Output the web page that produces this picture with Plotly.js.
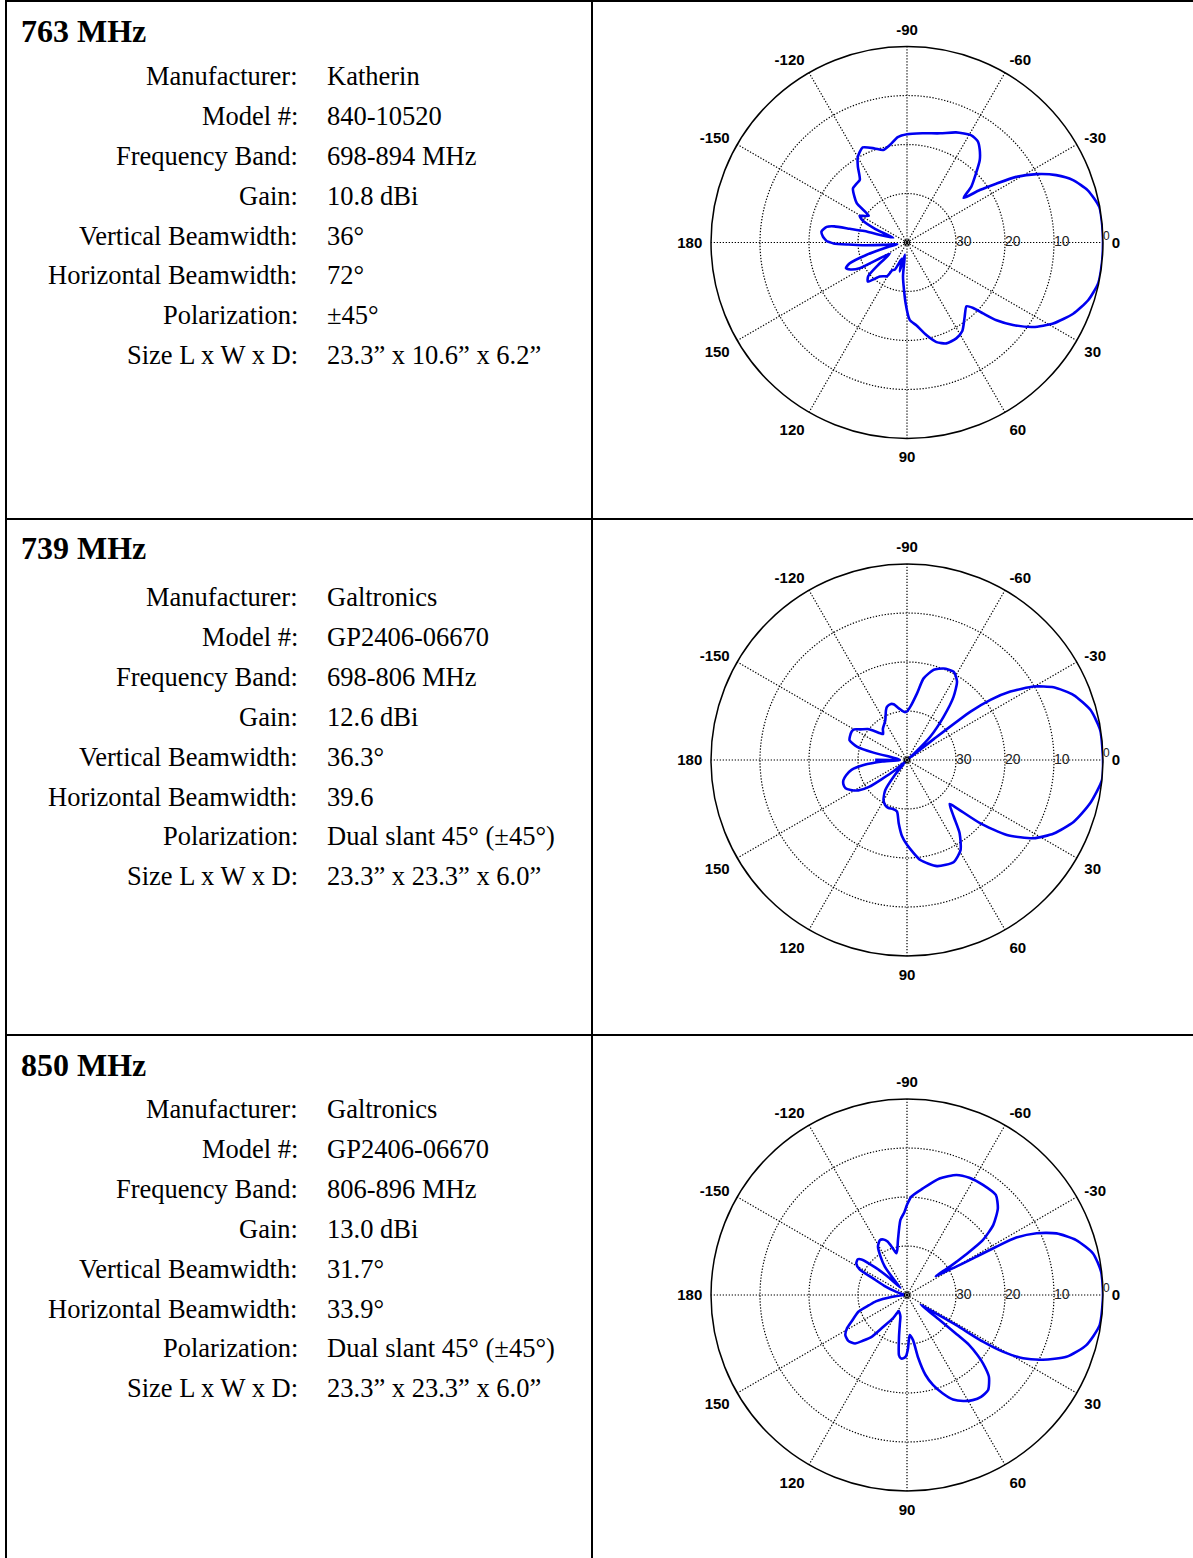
<!DOCTYPE html>
<html><head><meta charset="utf-8">
<script src="https://cdn.plot.ly/plotly-3.0.1.min.js"></script>
<style>html,body{margin:0;padding:0;background:#fff;overflow:hidden}#chart{width:1193px;height:1558px}</style>
</head><body><div id="chart"></div>
<script>
// ---------- text data ----------
const titles = ['763 MHz', '739 MHz', '850 MHz'];
const fieldLabels = ['Manufacturer:', 'Model #:', 'Frequency Band:', 'Gain:', 'Vertical Beamwidth:', 'Horizontal Beamwidth:', 'Polarization:', 'Size L x W x D:'];
const specs763 = ['Katherin', '840-10520', '698-894 MHz', '10.8 dBi', '36°', '72°', '±45°', '23.3” x 10.6” x 6.2”'];
const specs739 = ['Galtronics', 'GP2406-06670', '698-806 MHz', '12.6 dBi', '36.3°', '39.6', 'Dual slant 45° (±45°)', '23.3” x 23.3” x 6.0”'];
const specs850 = ['Galtronics', 'GP2406-06670', '806-896 MHz', '13.0 dBi', '31.7°', '33.9°', 'Dual slant 45° (±45°)', '23.3” x 23.3” x 6.0”'];

// ---------- polar tick data ----------
const angleTickVals = [0, 30, 60, 90, 120, 150, 180, 210, 240, 270, 300, 330];
const angleTickText = ['0', '30', '60', '90', '120', '150', '180', '-150', '-120', '-90', '-60', '-30'];
const radialTickVals = [-30, -20, -10, 0];
const radialTickText = ['30', '20', '10', '0'];
const radialRange = [-40, 0];

// ---------- pattern data (angle in degrees, relative level in dB) ----------
const theta763 = [-179, -176, -172.7, -169, -167.5, -166.5, -165, -161, -157, -153.5, -150.5, -148, -145, -142, -139, -135, -131, -127, -123, -120, -115, -109, -104.5, -100, -95, -90, -82, -73, -66, -59, -55, -52, -48.5, -45, -41, -38.2, -35.8, -33.4, -31, -27.8, -24.3, -20.6, -16.1, -10.5, -5, 0, 6, 12, 17.7, 23.2, 29, 33.8, 37.9, 41, 43, 44.7, 47, 52.2, 58, 62.8, 68.7, 73.5, 78.2, 83.6, 88, 91.3, 96.7, 100, 104, 108, 112, 114.3, 118, 120.5, 125, 128.8, 135, 139, 142, 146.8, 151.5, 154.5, 157.3, 160, 163, 167, 171, 174.4, 176.5, 178, 179.3, -179];
const gain763 = [-23.6, -22.8, -22.4, -23.3, -24.8, -28, -31, -37, -33, -29.8, -28.9, -29.8, -30.5, -27, -25.8, -24.4, -24.2, -24, -21.6, -19.9, -18.6, -19.7, -20.5, -19.8, -18.4, -17.9, -17.5, -16.7, -15.4, -14.5, -14.8, -15.9, -17.6, -20.1, -22.6, -25.3, -21.7, -18.2, -14, -10.1, -6.6, -3.8, -1.6, -0.1, 0, 0, 0, -0.1, -1.2, -3.1, -5.9, -9, -12.6, -15.8, -18.8, -21, -22.2, -20.8, -18.7, -18, -17.9, -18.8, -20.7, -23, -24.2, -27.6, -33, -37.5, -33.9, -36.5, -35.1, -33.9, -33.6, -32, -31.6, -31.1, -28.7, -29.5, -32.5, -35.8, -29, -27.2, -26.5, -27.5, -31.3, -36, -38, -35.1, -31, -28, -25, -23.6];

const theta739 = [-180, -177.5, -173, -170, -167.6, -165, -161, -157.6, -153, -150, -146.7, -141.6, -139, -135, -132.7, -128, -123, -118.4, -113, -110.6, -106, -103.5, -98, -93, -90, -86.4, -81.5, -78.5, -73.5, -68.2, -62.2, -57.5, -53.6, -49.8, -45, -42, -39.5, -38, -37.3, -35.8, -33.5, -30.1, -26.4, -21.3, -15.3, -8.8, 0, 5.9, 13.3, 20.3, 26.6, 31.7, 36.9, 40.8, 44, 45.9, 50.5, 54.3, 59.3, 65.3, 74.2, 82.4, 90, 93.7, 97.5, 101, 106, 111, 116, 120.3, 125.8, 129, 134, 140, 144.7, 148, 152, 155.3, 159, 162.5, 166, 170, 173.4, 176.5, 178.5, 180];
const gain739 = [-33.5, -38.5, -38, -37, -33, -29.4, -27.6, -27.4, -27.3, -27.5, -28.6, -29.8, -30.8, -32.3, -32.8, -32, -31.4, -30.7, -29, -28.4, -28.1, -28.3, -29.5, -30.2, -30.1, -29.1, -26.3, -23, -20.8, -19.9, -19.6, -21, -24, -28.4, -33.3, -38, -39.5, -33, -23.7, -19, -14.7, -10.1, -6.6, -3.5, -1.2, -0.1, 0, 0, -1.6, -3.7, -6.5, -9.6, -14.5, -20.2, -25.8, -27.5, -25, -21.6, -18.6, -17.1, -17.5, -19.4, -22.7, -24.4, -27, -29.3, -29.6, -29.5, -29.8, -30.5, -32.4, -36, -39.5, -36.5, -30.5, -28.3, -27, -26.2, -26.1, -26.4, -27.2, -28.5, -31.1, -35, -38.5, -33.5];

const theta850 = [-180, -170, -163, -158, -153.9, -151.5, -148, -144, -142, -139, -136, -132.5, -130, -128, -124.6, -121, -118, -116.4, -113, -110, -107, -104.4, -102, -99.3, -95, -92, -90, -87.5, -81.5, -74.4, -67.6, -62, -55.4, -48.4, -43.6, -39.1, -35.9, -34.5, -33.5, -33.2, -31.5, -29.9, -28.9, -28.4, -27.7, -25.5, -22.4, -18, -12.6, -6.8, 0, 8.9, 15.6, 21.2, 25.5, 28.6, 30.6, 31.6, 31.5, 32.5, 35, 37.5, 38.3, 38.8, 40.5, 42, 44.9, 49.5, 54, 58, 62, 66.2, 70, 73.9, 77, 79.9, 82.4, 86.2, 88.9, 91, 93, 95.5, 97.6, 100.9, 104, 107, 112, 117, 121, 126.6, 130, 134, 137, 142, 147, 151, 156, 161, 165, 168.4, 173, 180];
const gain850 = [-39.5, -39, -37.5, -35, -32.3, -29, -27.8, -27.6, -28.2, -31.5, -35, -38, -35.5, -32.6, -30.5, -28.5, -27.8, -27.5, -27.7, -28.4, -30, -31.2, -30.5, -28.6, -24.6, -23.2, -21.6, -19.9, -18, -15.3, -13.5, -12.9, -12.7, -12.7, -14.4, -17.3, -20.9, -25.4, -29.5, -33, -31, -28.4, -23.8, -19.3, -14.8, -10.7, -7, -3.7, -1.1, -0.1, 0, -0.2, -2, -5.1, -9.3, -13, -17.3, -21.8, -28.2, -32.9, -36.6, -32, -27, -23.7, -21, -19.1, -16.4, -14.5, -14.3, -14.7, -15.5, -16.7, -18.6, -20.9, -23.3, -27, -30.7, -31.8, -29.1, -27.5, -27.1, -27, -27.6, -31.4, -34, -35.4, -36, -36.3, -34.5, -32, -29, -27, -25.5, -24.8, -25, -26, -28, -29.5, -32, -33.5, -37, -39.5];

// ---------- layout constants ----------
const W = 1193, H = 1558;
const CX = 907, R = 196;
const plotCY = [242.5, 760, 1295];
const titleY = [31, 548, 1065];
const firstLineY = [76, 597, 1109];
const lineStep = 39.9;
const labelRightX = 300, valueLeftX = 325, titleX = 19;
const dividerY = [519, 1035];
const midX = 592, leftX = 6;

const px = x => x / W;
const py = y => 1 - y / H;

const serif = 'Liberation Serif, Times New Roman, serif';
const sans = 'Liberation Sans, Arial, sans-serif';
const dotted = '1.3px,1.7px';

function polarCfg(cy) {
  return {
    domain: { x: [px(CX - R), px(CX + R)], y: [py(cy + R), py(cy - R)] },
    bgcolor: 'rgba(0,0,0,0)',
    angularaxis: {
      direction: 'clockwise', rotation: 0,
      tickmode: 'array', tickvals: angleTickVals, ticktext: angleTickText,
      showline: true, linecolor: '#000', linewidth: 1.5,
      showgrid: true, gridcolor: '#000', gridwidth: 1.2, griddash: dotted,
      ticks: 'outside', ticklen: 5, tickcolor: 'rgba(0,0,0,0)',
      tickfont: { family: sans, size: 15, weight: 'bold', color: '#000' }
    },
    radialaxis: {
      range: radialRange, angle: 0,
      tickmode: 'array', tickvals: radialTickVals, showticklabels: false,
      showline: false, showgrid: true, gridcolor: '#000', gridwidth: 1.2, griddash: dotted,
      ticks: ''
    }
  };
}

const patterns = [[theta763, gain763], [theta739, gain739], [theta850, gain850]];
const subplots = ['polar', 'polar2', 'polar3'];
const traces = [];
patterns.forEach((p, i) => {
  traces.push({
    type: 'scatterpolar', mode: 'lines', subplot: subplots[i],
    theta: p[0].concat([p[0][0]]), r: p[1].concat([p[1][0]]),
    line: { color: '#0000f0', width: 2.6, shape: 'spline', smoothing: 0.6 },
    hoverinfo: 'skip', showlegend: false
  });
  // radial level labels on the 0° spoke
  traces.push({
    type: 'scatterpolar', mode: 'text', subplot: subplots[i],
    r: radialTickVals, theta: radialTickVals.map(() => 0),
    text: radialTickText, textposition: ['middle right', 'middle right', 'middle right', 'top right'],
    textfont: { family: sans, size: [14, 14, 14, 12], color: '#222' },
    hoverinfo: 'skip', showlegend: false, cliponaxis: false
  });
  traces.push({
    type: 'scatterpolar', mode: 'markers', subplot: subplots[i],
    theta: [0], r: [radialRange[0]],
    marker: { symbol: 'circle-open-dot', size: 5, color: '#000', line: { width: 1.1, color: '#000' } },
    hoverinfo: 'skip', showlegend: false
  });
});

const annotations = [];
const specs = [specs763, specs739, specs850];
titles.forEach((t, i) => {
  annotations.push({ xref: 'paper', yref: 'paper', x: px(titleX), y: py(titleY[i]), xanchor: 'left', yanchor: 'middle',
    text: '<b>' + t + '</b>', showarrow: false, font: { family: serif, size: 32, color: '#000' } });
  fieldLabels.forEach((lab, j) => {
    const y = py(firstLineY[i] + j * lineStep);
    annotations.push({ xref: 'paper', yref: 'paper', x: px(labelRightX), y: y, xanchor: 'right', yanchor: 'middle',
      text: lab, showarrow: false, font: { family: serif, size: 26.5, color: '#000' } });
    annotations.push({ xref: 'paper', yref: 'paper', x: px(valueLeftX), y: y, xanchor: 'left', yanchor: 'middle',
      text: specs[i][j], showarrow: false, font: { family: serif, size: 26.5, color: '#000' } });
  });
});

const lineStyle = { color: '#000', width: 2 };
const shapes = [
  { type: 'line', xref: 'paper', yref: 'paper', x0: px(leftX - 1), x1: 1, y0: py(1), y1: py(1), line: lineStyle },
  { type: 'line', xref: 'paper', yref: 'paper', x0: px(leftX), x1: px(leftX), y0: 1, y1: 0, line: lineStyle },
  { type: 'line', xref: 'paper', yref: 'paper', x0: px(midX), x1: px(midX), y0: 1, y1: 0, line: lineStyle }
];
dividerY.forEach(y => shapes.push({ type: 'line', xref: 'paper', yref: 'paper', x0: px(leftX - 1), x1: 1, y0: py(y), y1: py(y), line: lineStyle }));

const layout = {
  width: W, height: H, margin: { l: 0, r: 0, t: 0, b: 0 },
  paper_bgcolor: '#fff', showlegend: false,
  polar: polarCfg(plotCY[0]), polar2: polarCfg(plotCY[1]), polar3: polarCfg(plotCY[2]),
  annotations: annotations, shapes: shapes
};

Plotly.newPlot('chart', traces, layout, { staticPlot: true, displayModeBar: false });
</script>
</body></html>
